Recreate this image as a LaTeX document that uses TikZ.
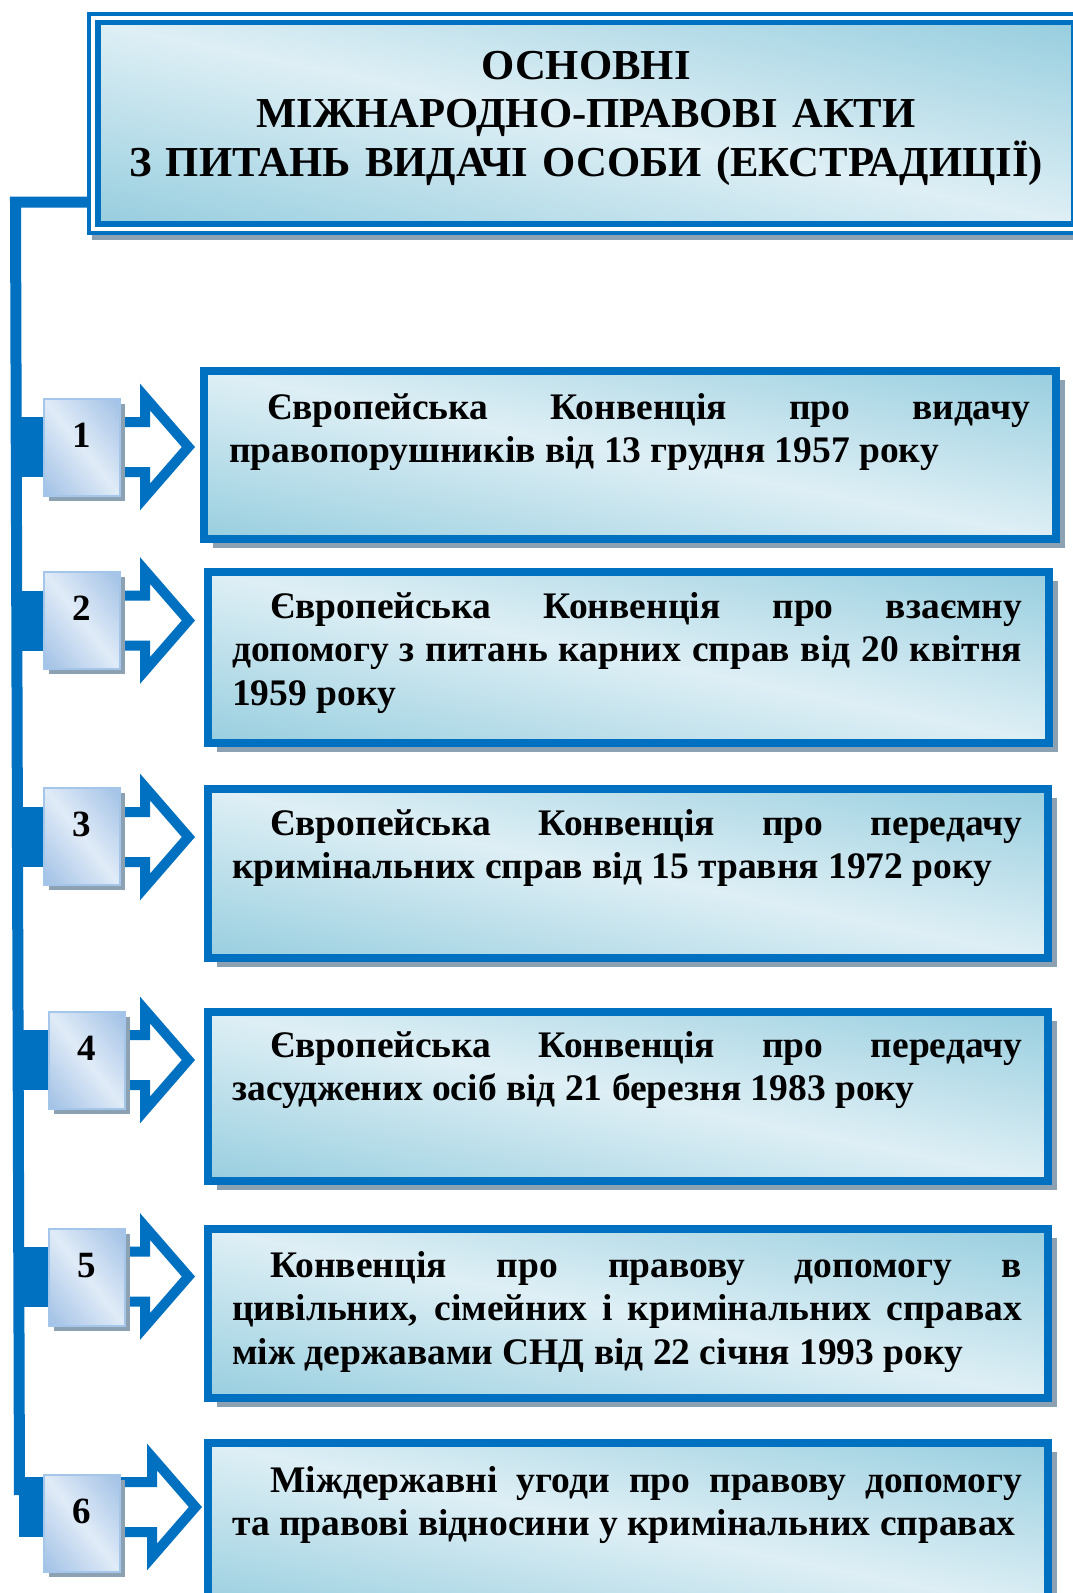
\documentclass[tikz,border=0pt]{standalone}
\usepackage{fontspec}
\setmainfont{Liberation Serif}
\usetikzlibrary{shadows,backgrounds}
\definecolor{mainblue}{RGB}{0,112,192}
\definecolor{numedge}{RGB}{164,198,234}
\definecolor{shadowgray}{RGB}{140,162,178}
\tolerance=10000
\hbadness=10000
\newcommand{\boxlead}{\hspace*{38pt}\rule{0pt}{28pt}}
% light along the top-left / bottom-right diagonal, dark in the other corners
\pgfdeclarefunctionalshading{boxshade}{\pgfpointorigin}{\pgfpoint{100bp}{100bp}}{}{
    add 100 sub abs 50 div dup 1 gt {pop 1} if
    dup -0.275 mul 0.871 add exch
    dup -0.129 mul 0.937 add exch
    -0.086 mul 0.961 add
}
\pgfdeclarefunctionalshading{numshade}{\pgfpointorigin}{\pgfpoint{100bp}{100bp}}{}{
    add 100 sub abs 50 div dup 1 gt {pop 1} if
    dup -0.251 mul 0.878 add exch
    dup -0.169 mul 0.922 add exch
    -0.071 mul 0.969 add
}

\begin{document}
\begin{tikzpicture}[x=1pt, y=-1pt,
    trunk/.style={mainblue, line width=11pt},
    tab/.style={mainblue, line width=60pt},
    hollowarrow/.style={draw=mainblue, fill=white, line width=10pt, line join=miter},
    titlebox/.style={draw=mainblue, line width=2pt, shade, shading=boxshade, anchor=north west, inner sep=0pt},
    titletext/.style={anchor=north, inner sep=0pt, text width=970pt, align=center, font=\fontsize{42.7}{48.7}\selectfont\bfseries},
    numbox/.style={draw=numedge, line width=2pt, shade, shading=numshade, minimum width=76pt, minimum height=97pt, text height=20pt, text depth=20pt, inner sep=0pt, font=\fontsize{37}{40}\selectfont\bfseries, drop shadow={shadow xshift=5pt, shadow yshift=-5pt, fill=shadowgray, opacity=1}},
    bigbox/.style={draw=mainblue, line width=8pt, shade, shading=boxshade, anchor=north west, inner sep=0pt, drop shadow={shadow xshift=8.5pt, shadow yshift=-8.5pt, fill=shadowgray, opacity=1}},
    boxtext/.style={anchor=north west, inner sep=0pt, text width=790pt, align=justify, font=\fontsize{37.5}{43.5}\selectfont\bfseries}]
    \useasboundingbox (0,0) rectangle (1073,1593);
    \clip (0,0) rectangle (1073,1593);

    % Title
    \fill[shadowgray] (92,17) rectangle (1100,240);
    \draw[mainblue, line width=4pt, double=white, double distance=4pt] (93,18) rectangle (1100,229);
    \node[titlebox, minimum width=972pt, minimum height=198pt] (title) at (99,23) {};
    \node[titletext] (titletext) at (586,42) {\rule{0pt}{37pt}ОСНОВНІ\\ МІЖНАРОДНО-ПРАВОВІ АКТИ\\ З ПИТАНЬ ВИДАЧІ ОСОБИ (ЕКСТРАДИЦІЇ)};

    % Numbers
    \node[numbox] (n1) at (82,447.5) {1};
    \node[numbox] (n2) at (82,620.5) {2};
    \node[numbox] (n3) at (82,836.5) {3};
    \node[numbox] (n4) at (87,1060.5) {4};
    \node[numbox] (n5) at (87,1277) {5};
    \node[numbox] (n6) at (82,1523.5) {6};

    % Acts
    \node[bigbox, minimum width=852pt, minimum height=168pt] (b1) at (200,367) {};
    \node[boxtext, text width=801pt] (t1) at (229,391) {\boxlead Європейська Конвенція про видачу\linebreak правопорушників від 13 грудня 1957 року};
    \node[bigbox, minimum width=841pt, minimum height=171pt] (b2) at (204,568) {};
    \node[boxtext] (t2) at (232,590) {\boxlead Європейська Конвенція про взаємну\linebreak допомогу з питань карних справ від 20 квітня\linebreak 1959 року};
    \node[bigbox, minimum width=840pt, minimum height=169pt] (b3) at (204,785) {};
    \node[boxtext] (t3) at (232,807) {\boxlead Європейська Конвенція про передачу\linebreak кримінальних справ від 15 травня 1972 року};
    \node[bigbox, minimum width=840pt, minimum height=169pt] (b4) at (204,1008) {};
    \node[boxtext] (t4) at (232,1029) {\boxlead Європейська Конвенція про передачу\linebreak засуджених осіб від 21 березня 1983 року};
    \node[bigbox, minimum width=840pt, minimum height=169pt] (b5) at (204,1225) {};
    \node[boxtext] (t5) at (232,1249) {\boxlead Конвенція про правову допомогу в\linebreak цивільних, сімейних і кримінальних справах\linebreak між державами СНД від 22 січня 1993 року};
    \node[bigbox, minimum width=840pt, minimum height=169pt] (b6) at (204,1439) {};
    \node[boxtext] (t6) at (232,1464) {\boxlead Міждержавні угоди про правову допомогу\linebreak та правові відносини у кримінальних справах};

    \begin{scope}[on background layer]
        % Trunk
        \coordinate (start) at (92,202);
        \coordinate (corner) at (15.5,202);
        \coordinate (foot) at (19.5,1495);
        \draw[trunk] (start) -- (corner) -- (foot);

        % Tabs
        \draw[tab] (17,447) -- (n1.west |- 0,447);
        \draw[tab] (17,620.5) -- (n2.west |- 0,620.5);
        \draw[tab] (17,837) -- (n3.west |- 0,837);
        \draw[tab] (18,1060) -- (n4.west |- 0,1060);
        \draw[tab] (18,1276.5) -- (n5.west |- 0,1276.5);
        \draw[tab] (19,1507) -- (n6.west |- 0,1507);

        % Arrows
        \draw[hollowarrow] (n1.center |- 0,422) -- (145,422) -- (145,397) -- (188.4,447) -- (145,497) -- (145,472) -- (n1.center |- 0,472) -- cycle;
        \draw[hollowarrow] (n2.center |- 0,595.5) -- (145,595.5) -- (145,570.5) -- (188.4,620.5) -- (145,670.5) -- (145,645.5) -- (n2.center |- 0,645.5) -- cycle;
        \draw[hollowarrow] (n3.center |- 0,812) -- (145,812) -- (145,787) -- (188.4,837) -- (145,887) -- (145,862) -- (n3.center |- 0,862) -- cycle;
        \draw[hollowarrow] (n4.center |- 0,1035) -- (145,1035) -- (145,1010) -- (188.4,1060) -- (145,1110) -- (145,1085) -- (n4.center |- 0,1085) -- cycle;
        \draw[hollowarrow] (n5.center |- 0,1251.5) -- (145,1251.5) -- (145,1226.5) -- (188.4,1276.5) -- (145,1326.5) -- (145,1301.5) -- (n5.center |- 0,1301.5) -- cycle;
        \draw[hollowarrow] (n6.center |- 0,1482) -- (152,1482) -- (152,1457) -- (195.4,1507) -- (152,1557) -- (152,1532) -- (n6.center |- 0,1532) -- cycle;
    \end{scope}
\end{tikzpicture}
\end{document}
